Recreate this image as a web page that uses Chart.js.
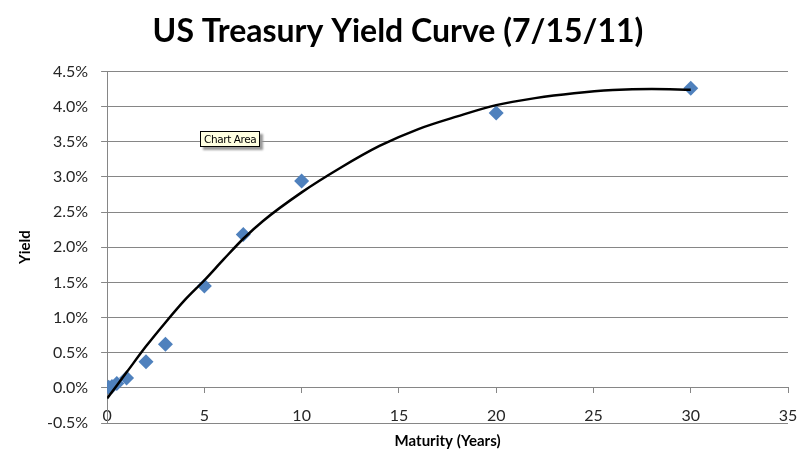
<!DOCTYPE html>
<html>
<head>
<meta charset="utf-8">
<script src="https://cdn.jsdelivr.net/npm/chart.js@4.4.0/dist/chart.umd.min.js"></script>
<style>
    html, body { margin: 0; padding: 0; background: #fff; }
    #wrap { position: relative; width: 812px; height: 464px; }
    #tip {
        position: absolute; left: 200px; top: 131px;
        font: 10.5px "DejaVu Sans", sans-serif; color: #000;
        background: #ffffe1; border: 1px solid #000;
        padding: 1px 3px; box-shadow: 3px 3px 2px #9a9a9a;
        white-space: nowrap; letter-spacing: -0.4px;
    }
</style>
</head>
<body>
<div id="wrap">
    <canvas id="myChart"></canvas>
    <div id="tip">Chart Area</div>
</div>
<script>
// treasury yields (%) by maturity in years
const maturities = [0.083, 0.25, 0.5, 1, 2, 3, 5, 7, 10, 20, 30];
const yields = [0.01, 0.02, 0.06, 0.14, 0.37, 0.62, 1.45, 2.18, 2.94, 3.91, 4.26];

// trendline
const trendX = [0, 1, 2, 3, 4, 5, 6, 7, 8, 10, 12, 14, 16, 18, 20, 22, 24, 26, 28, 30];
const trendY = [-0.15, 0.22, 0.59, 0.93, 1.25, 1.53, 1.83, 2.12, 2.37, 2.78, 3.13, 3.44, 3.68, 3.86, 4.02, 4.12, 4.19, 4.235, 4.25, 4.24];

const yTicks = [-0.5, 0, 0.5, 1, 1.5, 2, 2.5, 3, 3.5, 4, 4.5];

function toPoints(xs, ys) {
    let pts = [];
    xs.forEach(function (x, i) {
        pts.push({x: x, y: ys[i]});
    });
    return pts;
}

const gridColor = '#868686';
const textColor = '#262626';

const data = {
    datasets: [{
        label: 'Trend',
        data: toPoints(trendX, trendY),
        showLine: true,
        borderColor: '#000',
        borderWidth: 2.5,
        pointRadius: 0,
        cubicInterpolationMode: 'monotone',
        order: 0
    }, {
        label: 'Yield',
        data: toPoints(maturities, yields),
        pointStyle: 'rectRot',
        pointRadius: 7.5,
        backgroundColor: '#4f81bd',
        borderColor: '#4f81bd',
        borderWidth: 0,
        order: 1
    }]
};

const config = {
    type: 'scatter',
    data: data,
    options: {
        responsive: false,
        animation: false,
        layout: {padding: {left: 8, right: 24, top: 0, bottom: 10}},
        plugins: {
            legend: {display: false},
            tooltip: {enabled: false},
            title: {
                display: true,
                text: 'US Treasury Yield Curve (7/15/11)',
                color: '#000',
                font: {family: 'Lato', size: 32, weight: 'bold'},
                padding: {top: 12, bottom: 21}
            }
        },
        scales: {
            x: {
                type: 'linear',
                position: {y: 0},
                min: 0,
                max: 35,
                ticks: {stepSize: 5, color: textColor, font: {family: 'Lato', size: 16}, padding: 13},
                grid: {drawOnChartArea: false, color: gridColor, tickLength: 5},
                border: {color: gridColor}
            },
            x2: {
                type: 'linear',
                position: 'bottom',
                min: 0,
                max: 35,
                ticks: {display: false},
                grid: {display: false},
                border: {display: false},
                title: {
                    display: true,
                    text: 'Maturity (Years)',
                    color: '#000',
                    font: {family: 'Lato', size: 15, weight: 'bold'},
                    padding: {top: 1, bottom: 4}
                }
            },
            y: {
                min: -0.5,
                max: 4.5,
                afterBuildTicks: function (axis) {
                    axis.ticks = yTicks.map(function (v) { return {value: v}; });
                },
                ticks: {
                    color: textColor,
                    font: {family: 'Lato', size: 16},
                    padding: 13,
                    callback: function (v) { return v.toFixed(1) + '%'; }
                },
                grid: {color: gridColor, tickLength: 6},
                border: {color: gridColor},
                title: {
                    display: true,
                    text: 'Yield',
                    color: '#000',
                    font: {family: 'Lato', size: 15, weight: 'bold'},
                    padding: {top: 8, bottom: 0}
                }
            }
        }
    }
};

let c = document.getElementById('myChart');
c.width = 812;
c.height = 464;
var yieldChart = new Chart(c.getContext('2d'), config);
</script>
</body>
</html>
